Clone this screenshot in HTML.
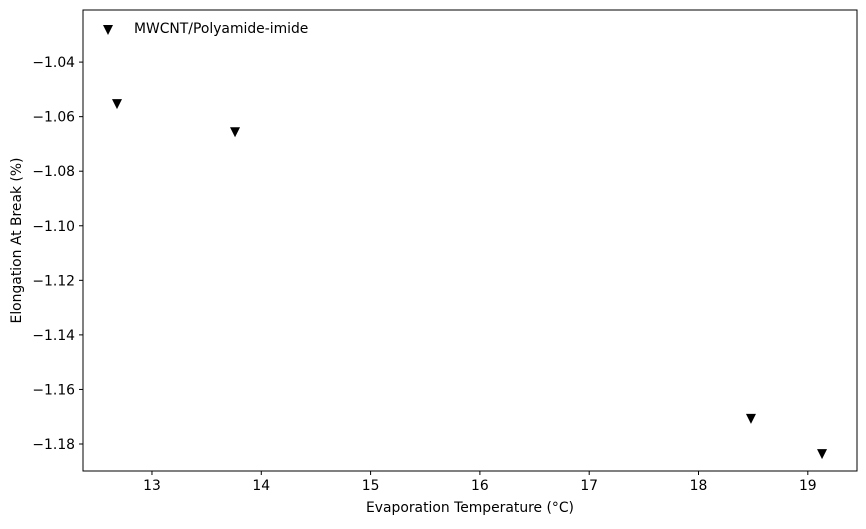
<!DOCTYPE html>
<html><head><meta charset="utf-8"><style>
body{margin:0;background:#fff;font-family:"DejaVu Sans","Liberation Sans",sans-serif;}
text{font-family:"DejaVu Sans","Liberation Sans",sans-serif;fill:#000;}
</style></head><body>
<svg id="chart" width="866" height="525" xmlns="http://www.w3.org/2000/svg">
<rect x="0" y="0" width="866" height="525" fill="#fff"/>
<g id="marks"></g>
<g id="axes"></g>
</svg>
<script>
const xValues = [12.68, 13.76, 18.48, 19.13];
const yValues = [-1.0554, -1.0657, -1.1708, -1.1837];
const xTicks = [13, 14, 15, 16, 17, 18, 19];
const yTicks = [-1.04, -1.06, -1.08, -1.10, -1.12, -1.14, -1.16, -1.18];
const seriesName = "MWCNT/Polyamide-imide";

const L=83,R=857,T=10,B=471;
const xMin=12.369,xMax=19.45,yMin=-1.1899,yMax=-1.0209;
const sx=v=>L+(v-xMin)/(xMax-xMin)*(R-L);
const sy=v=>B-(v-yMin)/(yMax-yMin)*(B-T);
const NS="http://www.w3.org/2000/svg";
const axes=document.getElementById('axes');
const marks=document.getElementById('marks');
function mk(tag,attrs,parent){const e=document.createElementNS(NS,tag);for(const k in attrs)e.setAttribute(k,attrs[k]);parent.appendChild(e);return e;}

const frame=mk('rect',{x:L,y:T,width:R-L,height:B-T,fill:'none',stroke:'#000','stroke-width':1},axes);



xTicks.forEach(v=>{
  const x=sx(v);
  const t=mk('line',{x1:x,x2:x,y1:B,y2:B+4,stroke:'#000'},axes);
  
  
  const l=mk('text',{x:x,y:B+19,'text-anchor':'middle','font-size':13.9},axes);
  l.textContent=String(v);
  
  
});
yTicks.forEach(v=>{
  const y=sy(v);
  const t=mk('line',{x1:L-4,x2:L,y1:y,y2:y,stroke:'#000'},axes);
  
  
  const l=mk('text',{x:L-8,y:y+5,'text-anchor':'end','font-size':13.9},axes);
  l.textContent='\u2212'+Math.abs(v).toFixed(2);
  
  
});

const xt=mk('text',{x:(L+R)/2,y:512,'text-anchor':'middle','font-size':13.9},axes);
xt.textContent='Evaporation Temperature (°C)';


const yt=mk('text',{x:0,y:0,'text-anchor':'middle','font-size':13.9,transform:`translate(21,${(T+B)/2}) rotate(-90)`},axes);
yt.textContent='Elongation At Break (%)';



function tri(cx,cy){return `${cx-5},${cy-5} ${cx+5},${cy-5} ${cx},${cy+5}`;}
xValues.forEach((v,i)=>{
  const p=mk('polygon',{points:tri(sx(v),sy(yValues[i])),fill:'#000'},marks);
  
  
});

const lg=mk('g',{},axes);


mk('polygon',{points:tri(108,30),fill:'#000'},lg);
const lt=mk('text',{x:134,y:33,'font-size':13.9},lg);
lt.textContent=seriesName;
</script>
</body></html>
